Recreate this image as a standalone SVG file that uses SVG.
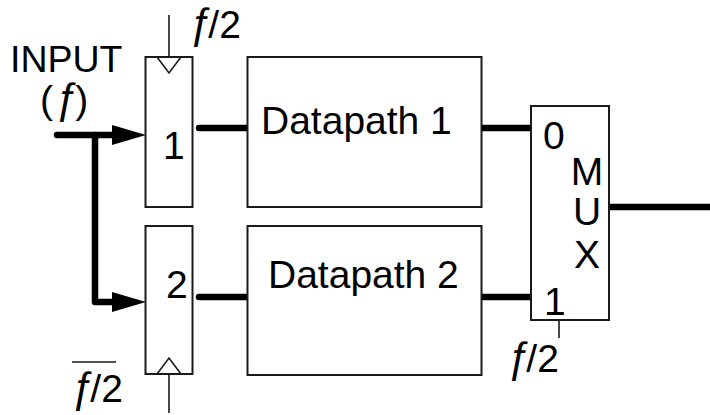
<svg xmlns="http://www.w3.org/2000/svg" width="710" height="415" viewBox="0 0 710 415">
  <style>
    .box { fill: #ffffff; stroke: #1a1a1a; stroke-width: 2; }
    .bus { fill: none; stroke: #000000; stroke-width: 6.5; stroke-linecap: round; stroke-linejoin: round; }
    .clk { fill: none; stroke: #1a1a1a; stroke-width: 1.6; }
    .lbl { font-family: "Liberation Sans", Arial, Helvetica, sans-serif; font-size: 39px; fill: #000000; }
    .fn { font-size: 42px; font-style: italic; }
    .head { fill: #000000; }
  </style>
  <rect width="710" height="415" fill="#ffffff"/>

  <!-- free-standing labels -->
  <text class="lbl" x="10" y="72" style="font-size:37.5px">INPUT</text>
  <text class="lbl" x="40" y="113">(<tspan class="fn" dx="1">ƒ</tspan><tspan dx="-2">)</tspan></text>

  <!-- connectors -->
  <g id="connectors">
    <path class="bus" d="M57,135 L118,135" />
    <path class="bus" d="M95,135 L95,302 L118,302" />
    <path class="head" d="M112,125 L146,135 L112,145 Z"/>
    <path class="head" d="M112,292 L146,302 L112,312 Z"/>
    <path class="bus" d="M199,128 L247,128" />
    <path class="bus" d="M199,297 L247,297" />
    <path class="bus" d="M482,128 L531,128" />
    <path class="bus" d="M482,297 L531,297" />
    <path d="M609,207 L710,207" stroke="#000" stroke-width="6.5" fill="none"/>
  </g>

  <!-- register 1, clocked by f/2 -->
  <g id="reg1">
    <rect class="box" x="145.5" y="57" width="47" height="150"/>
    <path class="clk" d="M169,15 L169,57 M157,57 L169,73 L181,57"/>
    <text class="lbl" x="188" y="38"><tspan class="fn">ƒ</tspan><tspan dx="-3">/2</tspan></text>
    <text class="lbl" x="163" y="159">1</text>
  </g>

  <!-- register 2, clocked by inverted f/2 -->
  <g id="reg2">
    <rect class="box" x="145.5" y="226" width="47" height="148"/>
    <path class="clk" d="M169,413 L169,374 M157,374 L169,358 L181,374"/>
    <text class="lbl" x="70" y="402"><tspan class="fn">ƒ</tspan><tspan dx="-3">/2</tspan></text>
    <line x1="72" y1="362" x2="116" y2="362" stroke="#1a1a1a" stroke-width="1.6"/>
    <text class="lbl" x="166" y="298">2</text>
  </g>

  <g id="datapath1">
    <rect class="box" x="247.5" y="57" width="234" height="150"/>
    <text class="lbl" x="261" y="134">Datapath 1</text>
  </g>

  <g id="datapath2">
    <rect class="box" x="247.5" y="226" width="234" height="149"/>
    <text class="lbl" x="268" y="288">Datapath 2</text>
  </g>

  <g id="mux">
    <rect class="box" x="531" y="106" width="78" height="214"/>
    <path class="clk" d="M559,320 L559,338"/>
    <text class="lbl" x="543" y="149">0</text>
    <text class="lbl" x="544" y="315">1</text>
    <text class="lbl" x="587" y="185" text-anchor="middle">M</text>
    <text class="lbl" x="587" y="225" text-anchor="middle">U</text>
    <text class="lbl" x="587" y="268" text-anchor="middle">X</text>
    <text class="lbl" x="506" y="372"><tspan class="fn">ƒ</tspan><tspan dx="-3">/2</tspan></text>
  </g>
</svg>
